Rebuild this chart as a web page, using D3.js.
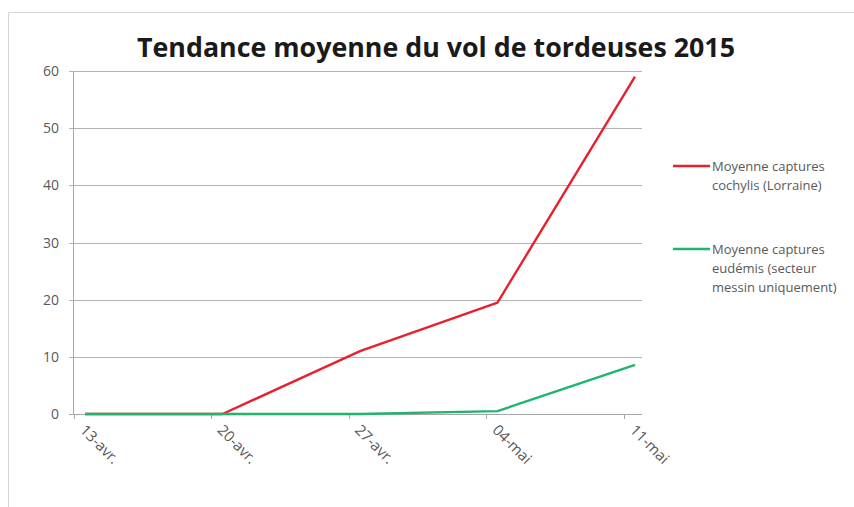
<!DOCTYPE html>
<html>
<head>
<meta charset="utf-8">
<script src="https://cdn.jsdelivr.net/npm/d3@7"></script>
<style>
  body { margin: 0; background: #fff; }
  svg { display: block; font-family: "Open Sans", "DejaVu Sans", sans-serif; }
</style>
</head>
<body>
<svg id="chart" width="854" height="507"></svg>
<script>
// data
var categories = ["13-avr.", "20-avr.", "27-avr.", "04-mai", "11-mai"];
var cochylis = [0, 0, 11, 19.5, 59];
var eudemis = [0, 0, 0, 0.5, 8.6];
var yTicks = [0, 10, 20, 30, 40, 50, 60];
var seriesNames = [
    ["Moyenne captures", "cochylis (Lorraine)"],
    ["Moyenne captures", "eudémis (secteur", "messin uniquement)"]
];
var colors = ["#e8202e", "#20b46c"];

var svg = d3.select("#chart");

// outer frame of the chart area
svg.append("path")
    .attr("d", "M8.5,507 V12.5 H854")
    .attr("fill", "none")
    .attr("stroke", "#d4d4d4");

var x = d3.scaleLinear().domain([0, categories.length - 1]).range([85, 635]);
var y = d3.scaleLinear().domain([0, 60]).range([414, 71]);
var tickOffset = -11.5;

// gridlines + y labels
svg.append("g").selectAll("line")
    .data(yTicks)
  .enter().append("line")
    .attr("x1", 69).attr("x2", 642)
    .attr("y1", function(d) { return Math.round(y(d)) + 0.5; })
    .attr("y2", function(d) { return Math.round(y(d)) + 0.5; })
    .attr("stroke", function(d) { return d === 0 ? "#a6a6a6" : "#b4b4b4"; })
    .attr("stroke-width", 1);

svg.append("g").selectAll("text")
    .data(yTicks)
  .enter().append("text")
    .attr("x", 59)
    .attr("y", function(d) { return y(d) + 5; })
    .attr("text-anchor", "end")
    .attr("font-size", 14)
    .attr("fill", "#595959")
    .text(function(d) { return d; });

// y axis line
svg.append("line")
    .attr("x1", 73.5).attr("x2", 73.5)
    .attr("y1", y(60)).attr("y2", y(0))
    .attr("stroke", "#a6a6a6");

// x tick marks
svg.append("g").selectAll("line")
    .data(categories)
  .enter().append("line")
    .attr("x1", function(d, i) { return Math.round(x(i) + tickOffset) + 0.5; })
    .attr("x2", function(d, i) { return Math.round(x(i) + tickOffset) + 0.5; })
    .attr("y1", y(0)).attr("y2", y(0) + 5)
    .attr("stroke", "#a6a6a6");

// x labels, rotated
svg.append("g").selectAll("text")
    .data(categories)
  .enter().append("text")
    .attr("transform", function(d, i) {
        return "translate(" + (x(i) - 6) + "," + (y(0) + 17) + ") rotate(45)";
    })
    .attr("font-size", 15)
    .attr("fill", "#595959")
    .text(function(d) { return d; });

// lines
var line = d3.line()
    .x(function(d, i) { return x(i); })
    .y(function(d) { return y(d); });

[cochylis, eudemis].forEach(function(s, k) {
    svg.append("path")
        .datum(s)
        .attr("d", line)
        .attr("fill", "none")
        .attr("stroke", colors[k])
        .attr("stroke-width", 2.4)
        .attr("stroke-linejoin", "round");
});

// legend
var legendY = [166, 249];
seriesNames.forEach(function(lines, k) {
    var g = svg.append("g");
    g.append("line")
        .attr("x1", 673).attr("x2", 710)
        .attr("y1", legendY[k]).attr("y2", legendY[k])
        .attr("stroke", colors[k])
        .attr("stroke-width", 2.4);
    lines.forEach(function(t, j) {
        g.append("text")
            .attr("x", 712)
            .attr("y", legendY[k] + 4.5 + j * 19)
            .attr("font-size", 13)
            .attr("fill", "#595959")
            .text(t);
    });
});

// title
svg.append("text")
    .attr("x", 436)
    .attr("y", 57)
    .attr("text-anchor", "middle")
    .attr("font-size", 26)
    .attr("font-weight", "bold")
    .attr("fill", "#1a1a1a")
    .attr("textLength", 598)
    .attr("lengthAdjust", "spacingAndGlyphs")
    .text("Tendance moyenne du vol de tordeuses 2015");
</script>
</body>
</html>
